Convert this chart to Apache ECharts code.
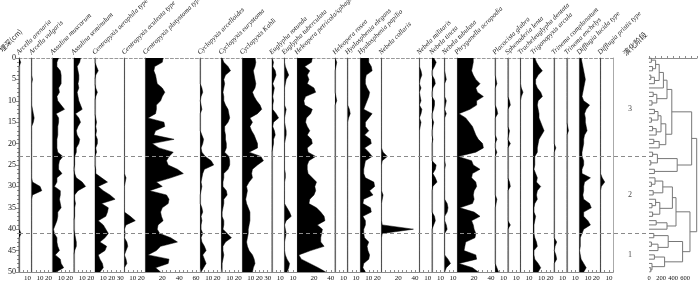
<!DOCTYPE html>
<html>
<head>
<meta charset="utf-8">
<script src="https://cdn.jsdelivr.net/npm/echarts@6/dist/echarts.min.js"></script>
<style>
  html, body { margin: 0; padding: 0; background: #fff; }
  #chart { width: 700px; height: 288px; }
</style>
</head>
<body>
<div id="chart"></div>
<script>
// depth categories (cm)
const depths = ['0','1','2','3','4','5','6','7','8','9','10','11','12','13','14','15','16','17','18','19','20',
  '21','22','23','24','25','26','27','28','29','30','31','32','33','34','35','36','37','38','39','40',
  '41','42','43','44','45','46','47','48','49','50'];

// percentages per depth, 0..50 cm
const arcellaArenaria = [0,2,0,0,0,0,0,0,0,0, 0,0,0,0,0,0,0,0,0,0, 0,0,0,0,0,0,0,0,0,0, 0,0,0,0,0,0,0,0,0,0, 0,2.5,0,0,0,0,0,0,0,0, 0];
const arcellaVulgaris = [0,0,0,0,0,1,0,0,0,0, 0,0,1,2,3,2,0,0,0,0, 0,0,0,0,0,0,0,0,0,1, 10,12,1,0,0,0,0,0,0,0, 0,0,0,0,0,0,0,0,0,0, 0];
const assulinaMuscorum = [7,5,5,9,10,10,10,7,8,5, 6,10,14,4,7,7,6,6,6,5, 5,5,6,12,8,7,7,11,5,5, 2,9,9,8,9,10,6,6,5,3, 1,2,5,5,6,8,3,9,10,13, 4];
const assulinaSeminulum = [8,7,4,5,6,6,5,6,4,5, 6,8,10,2,6,8,5,3,4,7, 6,3,3,1,1,1,0,1,3,10, 14,5,1,1,2,1,1,1,0,0, 0,1,2,3,3,1,0,0,0,0, 0];
const centropyxisAerophila = [0,0,2,4,1,0,0,1,3,1, 0,0,0,0,1,2,1,2,1,3, 3,1,2,0,0,0,1,1,8,15, 4,10,18,24,8,16,15,13,4,10, 13,16,12,6,14,12,4,6,9,10, 6];
const centropyxisAculeata = [0,0,0,0,0,0,0,0,0,0, 0,0,0,0,0,0,0,0,0,0, 0,0,0,0,0,0,0,0,2,1, 0,0,0,0,0,0,0,7,13,2, 0,1,0,3,4,2,0,2,3,0, 0];
const centropyxisPlatystoma = [21,20,11,10,12,13,14,20,23,20, 18,13,13,12,3,22,23,12,10,34, 8,16,33,28,25,27,38,45,30,13, 20,5,25,28,27,20,18,19,21,15, 14,17,30,38,18,13,3,28,27,12, 18];
const cyclopyxisArcelloides = [0,0,0,0,0,0,0,2,3,1, 0,1,2,0,0,0,0,0,2,4, 3,1,2,6,13,16,5,3,2,1, 2,1,0,0,0,2,3,1,2,1, 1,3,1,2,5,7,3,5,7,4, 1];
const cyclopyxisEurystoma = [1,3,8,11,5,3,4,3,2,3, 3,5,8,9,10,8,4,4,5,5, 6,6,4,9,10,10,8,3,3,2, 2,6,7,3,3,2,1,1,3,3, 2,7,12,5,2,2,3,2,1,1, 1];
const cyclopyxisKahli = [15,16,15,13,14,15,16,15,12,14, 17,21,23,18,9,12,9,11,14,16, 18,18,8,22,25,18,12,11,12,8, 5,6,5,4,5,7,9,9,9,8, 7,7,6,5,6,8,12,14,15,13, 12];
const euglyphaRotunda = [0,2,1,4,5,3,1,3,2,1, 2,1,1,5,8,2,1,3,4,2, 2,1,0,0,0,0,0,0,0,0, 0,0,0,0,0,0,0,0,0,0, 0,0,0,0,0,0,0,0,0,0, 0];
const euglyphaTuberculata = [0,0,1,3,5,2,1,0,0,0, 0,0,2,1,0,0,1,2,2,1, 0,0,0,0,0,0,0,1,1,0, 0,0,0,0,0,3,6,8,2,0, 1,2,1,0,0,0,1,3,6,5, 3];
const heleoperaPetricola = [18,17,9,15,12,14,12,20,22,10, 8,9,18,16,11,10,12,15,12,17, 18,12,13,22,14,12,12,13,18,23, 21,22,20,15,14,23,28,32,33,24, 30,29,28,28,32,16,2,5,15,25, 34];
const heleoperaRosea = [0,2,1,0,0,0,0,0,0,1, 2,0,0,0,0,0,0,0,0,0, 0,0,0,0,0,0,0,0,0,0, 0,0,0,0,0,0,0,0,0,0, 0,0,0,0,0,0,0,0,0,0, 0];
const hyalospheniaElegans = [0,0,0,0,0,0,0,0,0,0, 0,0,2,3,1,0,0,0,0,0, 0,0,0,0,0,0,0,0,0,0, 0,0,0,0,0,0,0,0,0,0, 0,0,0,0,0,0,0,0,0,0, 0];
const hyalospheniaPapilio = [10,10,13,14,7,6,6,8,11,10, 8,6,4,14,10,6,6,10,5,12, 13,5,10,14,6,5,4,4,6,16, 17,11,15,4,3,12,13,3,6,6, 4,4,5,10,8,9,11,10,4,3, 6];
const nebelaCollaris = [0,0,0,0,0,0,0,0,0,0, 0,0,0,0,0,0,0,0,0,0, 0,0,2,7,1,0,0,0,0,0, 0,0,2,1,0,0,0,0,0,1, 38,1,0,0,0,0,0,0,0,0, 0];
const nebelaMilitaris = [0,0,0,2,3,1,0,2,0,1, 2,0,3,2,0,2,1,0,0,0, 0,0,0,0,0,0,0,0,0,0, 0,0,0,0,0,0,0,0,0,0, 0,0,0,0,0,0,0,0,0,0, 0];
const nebelaTincta = [2,5,3,0,0,3,4,1,0,0, 3,3,2,0,0,2,1,0,0,1, 0,0,0,0,0,5,4,1,4,6, 1,0,0,0,0,0,0,3,4,2, 0,0,0,0,0,0,0,0,0,0, 0];
const nebelaTubulosa = [0,0,0,0,1,2,0,0,0,0, 2,1,0,2,0,0,0,0,0,0, 0,0,0,0,0,1,0,0,0,0, 0,0,0,0,3,4,3,0,0,2, 3,0,0,0,0,0,0,4,7,2, 0];
const phryganellaAcropodia = [19,19,18,17,19,22,27,22,24,31, 23,23,15,2,10,14,18,20,22,25, 30,31,22,1,17,19,27,18,17,22, 23,20,19,20,18,3,20,27,17,19, 20,22,21,10,9,8,22,23,2,18, 25];
const placocistaGlabra = [0,0,0,0,0,1,2,0,0,0, 0,0,2,3,0,0,0,0,0,2, 0,0,2,0,0,0,0,0,0,0, 0,0,0,2,1,0,0,0,0,0, 0,0,0,0,0,0,0,0,0,2, 4];
const sphenoderiaLenta = [0,0,0,0,0,0,0,0,0,0, 2,3,0,0,0,0,0,2,1,0, 3,0,0,0,0,0,0,0,0,2, 3,0,0,0,0,0,0,0,0,3, 0,0,0,0,0,0,0,0,0,0, 0];
const tracheleuglyphaDentata = [0,0,0,0,0,0,0,1,3,1, 0,0,0,0,0,0,0,0,0,0, 0,0,0,0,0,0,0,0,0,0, 0,0,0,0,0,0,0,0,0,0, 0,0,0,0,0,0,0,0,0,0, 0];
const trigonopyxisArcula = [2,4,7,11,6,3,3,5,9,11, 6,5,6,7,7,9,11,13,10,7, 6,5,5,2,2,2,1,3,5,4, 9,5,4,5,2,1,1,3,2,1, 1,1,2,4,5,1,1,2,6,9, 6];
const trinemaComplanatum = [0,0,0,0,0,0,0,0,0,0, 0,0,0,0,0,0,0,0,0,0, 0,2,0,0,0,0,0,0,0,0, 0,0,0,0,0,0,0,0,0,0, 0,0,0,3,1,0,2,3,0,0, 0];
const trinemaEnchelys = [0,0,0,0,0,0,0,0,0,0, 0,0,0,0,0,0,1,2,0,0, 0,0,0,0,0,0,0,0,0,0, 0,0,0,0,0,0,0,0,0,0, 0,0,0,0,0,0,0,0,0,0, 0];
const difflugiaLucida = [2,3,4,5,6,7,6,5,4,3, 5,12,8,6,7,7,8,9,6,5, 5,4,3,3,5,5,3,3,13,6, 5,5,4,5,12,14,5,5,10,13, 5,3,1,1,1,0,1,2,5,8, 5];
const difflugiaPristis = [0,0,0,0,0,0,0,0,0,0, 0,0,0,0,0,0,0,0,0,0, 0,0,0,0,0,0,0,0,2,5, 1,0,0,0,0,0,0,0,0,0, 0,0,0,0,0,0,0,0,0,0, 0];

const taxa = ['Arcella arenaria', 'Arcella vulgaris', 'Assulina muscorum', 'Assulina seminulum',
  'Centropyxis aerophila type', 'Centropyxis aculeata type', 'Centropyxis platystoma type',
  'Cyclopyxis arcelloides', 'Cyclopyxis eurystoma', 'Cyclopyxis Kahli', 'Euglypha rotunda',
  'Euglypha tuberculata', 'Heleopera petricola/sphagni', 'Heleopera rosea', 'Hyalosphenia elegans',
  'Hyalosphenia papilio', 'Nebela collaris', 'Nebela militaris', 'Nebela tincta', 'Nebela tubulosa',
  'Phryganella acropodia', 'Placocista glabra', 'Sphenoderia lenta', 'Tracheleuglypha dentata',
  'Trigonopyxis arcula', 'Trinema complanatum', 'Trinema enchelys', 'Difflugia lucida type',
  'Difflugia pristis type'];
const taxaValues = [arcellaArenaria, arcellaVulgaris, assulinaMuscorum, assulinaSeminulum,
  centropyxisAerophila, centropyxisAculeata, centropyxisPlatystoma, cyclopyxisArcelloides,
  cyclopyxisEurystoma, cyclopyxisKahli, euglyphaRotunda, euglyphaTuberculata, heleoperaPetricola,
  heleoperaRosea, hyalospheniaElegans, hyalospheniaPapilio, nebelaCollaris, nebelaMilitaris,
  nebelaTincta, nebelaTubulosa, phryganellaAcropodia, placocistaGlabra, sphenoderiaLenta,
  tracheleuglyphaDentata, trigonopyxisArcula, trinemaComplanatum, trinemaEnchelys,
  difflugiaLucida, difflugiaPristis];
// axis maximum (%) of each panel
const panelMax = [15, 25, 25, 25, 35, 25, 65, 25, 25, 35, 15, 15, 45, 15, 15, 25, 45, 15, 15, 15,
  45, 15, 15, 15, 25, 15, 15, 25, 15];

const zoneBounds = [23, 41];
const zoneNames = ['3', '2', '1'];
const zoneDepths = [12, 32, 46];

// CONISS: dissimilarity at which neighbouring samples join (between depth i and i+1)
const clusterGaps = [40,110,60,170,30,90,240,300,70,130, 50,380,90,150,40,200,60,120,280,80,
  170,711,60,140,30,470,90,795,100,40, 230,70,390,110,50,180,60,450,120,300,
  683,80,320,40,150,560,90,260,50,30];

// ---------- layout ----------
const TOP = 58, H = 214, X0 = 19, K = 0.8428;
const SERIF = 'Liberation Serif';
const AXIS_GRAY = '#8c8c8c';

const grids = [], xAxes = [], yAxes = [], series = [], graphics = [];
let left = X0;
taxa.forEach((name, i) => {
  const max = panelMax[i];
  const w = max * K;
  const step = max >= 45 ? 20 : 10;
  grids.push({ left: left, top: TOP, width: w, height: H });
  xAxes.push({
    gridIndex: i, type: 'value', min: 0, max: max, interval: 5, position: 'bottom',
    axisLine: { show: true, onZero: false, lineStyle: { color: AXIS_GRAY, width: 1 } },
    axisTick: { show: true, inside: true, length: 2, lineStyle: { color: AXIS_GRAY } },
    axisLabel: {
      fontSize: 7, fontFamily: SERIF, color: '#111', margin: 3,
      formatter: (v) => (v > 0 && v % step === 0 ? String(v) : ''),
    },
    splitLine: { show: false },
  });
  xAxes.push({
    gridIndex: i, type: 'value', min: 0, max: max, position: 'top',
    axisLine: { show: true, onZero: false, lineStyle: { color: '#999', width: 1, type: [3, 2] } },
    axisTick: { show: false }, axisLabel: { show: false }, splitLine: { show: false },
  });
  yAxes.push({
    gridIndex: i, type: 'category', data: depths, inverse: true, boundaryGap: false,
    axisLine: { show: true, onZero: false, lineStyle: { color: AXIS_GRAY, width: 1.2 } },
    axisTick: { show: false }, axisLabel: { show: false }, splitLine: { show: false },
  });
  series.push({
    type: 'line', xAxisIndex: 2 * i, yAxisIndex: i, data: taxaValues[i],
    symbol: 'none', silent: true, z: 2,
    lineStyle: { color: '#000', width: 0.5 },
    areaStyle: { color: '#000', opacity: 1 },
  });
  graphics.push({
    type: 'text', x: left + 1, y: TOP - 2, rotation: Math.PI / 4,
    style: { text: name, fontSize: 7, fontStyle: 'italic', fontFamily: SERIF, fill: '#222',
      align: 'left', verticalAlign: 'bottom' },
  });
  left += w;
});
const zoneLeft = left;

// overlay grid: depth axis + zone boundaries
const gOverlay = grids.length;
grids.push({ left: X0, top: TOP, width: 647 - X0, height: H });
xAxes.push({ gridIndex: gOverlay, type: 'value', min: 0, max: 1, show: false });
yAxes.push({
  gridIndex: gOverlay, type: 'value', min: 0, max: 50, interval: 5, inverse: true, position: 'left',
  axisLine: { show: true, lineStyle: { color: AXIS_GRAY, width: 1.2 } },
  axisTick: { show: true, length: 3, lineStyle: { color: AXIS_GRAY } },
  minorTick: { show: true, splitNumber: 5, length: 2, lineStyle: { color: AXIS_GRAY } },
  axisLabel: { fontSize: 8, fontFamily: SERIF, color: '#111', margin: 3 },
  splitLine: { show: false },
});
series.push({
  type: 'line', xAxisIndex: xAxes.length - 1, yAxisIndex: gOverlay, data: [], z: 5,
  markLine: {
    silent: true, symbol: ['none', 'none'], label: { show: false },
    lineStyle: { color: '#8a8a8a', width: 1, type: [4, 3] },
    data: zoneBounds.map((d) => ({ yAxis: d })),
  },
});

// zone column
const gZone = grids.length;
grids.push({ left: zoneLeft, top: TOP, width: 647 - zoneLeft, height: H });
xAxes.push({ gridIndex: gZone, type: 'value', min: 0, max: 1, show: false });
yAxes.push({
  gridIndex: gZone, type: 'value', min: 0, max: 50, inverse: true,
  axisLine: { show: true, lineStyle: { color: '#aaa', width: 1 } },
  axisTick: { show: false }, axisLabel: { show: false }, splitLine: { show: false },
});
series.push({
  type: 'scatter', xAxisIndex: xAxes.length - 1, yAxisIndex: gZone, symbolSize: 0, silent: true,
  data: zoneNames.map((n, i) => ({ value: [0.5, zoneDepths[i]], name: n })),
  label: { show: true, position: 'inside', formatter: (p) => p.name, fontSize: 8, fontFamily: SERIF, color: '#111' },
});

// dendrogram (constrained clustering, leaves in depth order)
const gDen = grids.length;
grids.push({ left: 649, top: TOP, width: 48, height: H });
xAxes.push({
  gridIndex: gDen, type: 'value', min: 0, max: 800, interval: 100,
  axisLine: { show: true, lineStyle: { color: AXIS_GRAY } },
  axisTick: { show: true, inside: true, length: 2, lineStyle: { color: AXIS_GRAY } },
  axisLabel: { fontSize: 6.5, fontFamily: SERIF, color: '#111', margin: 3,
    formatter: (v) => (v % 200 === 0 && v < 800 ? String(v) : '') },
  splitLine: { show: false },
});
yAxes.push({ gridIndex: gDen, type: 'value', min: 0, max: 50, inverse: true, show: false });
const links = [];
function buildTree(l, r) {
  if (l === r) return { h: 0, y: l };
  let k = l;
  for (let i = l; i < r; i++) if (clusterGaps[i] > clusterGaps[k]) k = i;
  const a = buildTree(l, k), b = buildTree(k + 1, r);
  const h = clusterGaps[k];
  links.push({ coords: [[a.h, a.y], [h, a.y], [h, b.y], [b.h, b.y]] });
  return { h: h, y: (a.y + b.y) / 2 };
}
buildTree(0, depths.length - 1);
series.push({
  type: 'lines', coordinateSystem: 'cartesian2d', xAxisIndex: xAxes.length - 1, yAxisIndex: gDen,
  polyline: true, silent: true, data: links,
  lineStyle: { color: '#777', width: 1, opacity: 1 },
});

graphics.push({
  type: 'text', x: 3, y: 53, rotation: Math.PI / 4,
  style: { text: '埋深(cm)', fontSize: 7, fontFamily: 'Noto Sans CJK SC', fill: '#222',
    align: 'left', verticalAlign: 'bottom' },
});
graphics.push({
  type: 'text', x: 627, y: 57, rotation: Math.PI / 4,
  style: { text: '演化阶段', fontSize: 7.5, fontFamily: 'Noto Sans CJK SC', fill: '#222',
    align: 'left', verticalAlign: 'bottom' },
});

const chart = echarts.init(document.getElementById('chart'));
chart.setOption({
  animation: false,
  backgroundColor: '#fff',
  grid: grids,
  xAxis: xAxes,
  yAxis: yAxes,
  series: series,
  graphic: graphics,
});
window.addEventListener('resize', () => chart.resize());
</script>
</body>
</html>
